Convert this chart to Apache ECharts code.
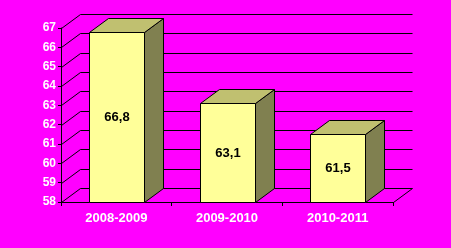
<!DOCTYPE html>
<html><head><meta charset="utf-8">
<script src="https://cdn.jsdelivr.net/npm/echarts@6/dist/echarts.min.js"></script>
<style>html,body{margin:0;padding:0;background:#FF00FF;}#c{width:451px;height:248px;}</style>
</head><body><div id="c"></div>
<script>
var categories = ['2008-2009', '2009-2010', '2010-2011'];
var values = [66.8, 63.1, 61.5];
var yTicks = [58, 59, 60, 61, 62, 63, 64, 65, 66, 67];

var DX = 19, DY = -14;
function c(v){ return Math.round(v) + 0.5; }
var chart = echarts.init(document.getElementById('c'), null, {renderer: 'canvas'});
var txtW = {color: '#fff', fontFamily: 'Liberation Sans, Arial', fontWeight: 'bold',
  textShadowColor: '#000', textShadowOffsetX: 1, textShadowOffsetY: 1, textShadowBlur: 0};
chart.setOption({
  backgroundColor: '#FF00FF',
  animation: false,
  grid: {left: 61, right: 58, top: 28, bottom: 46},
  xAxis: {
    type: 'category', data: categories,
    axisLine: {lineStyle: {color: '#000', width: 1}},
    axisTick: {show: true, length: 4, lineStyle: {color: '#000'}},
    axisLabel: Object.assign({fontSize: 13, margin: 10}, txtW)
  },
  yAxis: {
    type: 'value', min: 58, max: 67, interval: 1,
    axisLine: {show: true, lineStyle: {color: '#000', width: 1}},
    axisTick: {show: true, length: 3, lineStyle: {color: '#000'}},
    splitLine: {show: false},
    axisLabel: Object.assign({fontSize: 12, margin: 5}, txtW)
  },
  series: [
    {
      type: 'custom', z: 1, silent: true,
      data: yTicks.map(function(t){ return [0, t]; }),
      renderItem: function(params, api) {
        var cs = params.coordSys;
        var p = api.coord([0, api.value(1)]);
        var y = p[1];
        var x0 = cs.x, x1 = cs.x + cs.width;
        var st = {stroke: '#000', lineWidth: 1, fill: null};
        var children = [
          {type: 'polyline', shape: {points: [[c(x0), c(y)], [c(x0 + DX), c(y + DY)], [c(x1 + DX), c(y + DY)]]}, style: st}
        ];
        if (api.value(1) === yTicks[0]) {
          children.push({type: 'line', shape: {x1: c(x1), y1: c(y), x2: c(x1 + DX), y2: c(y + DY)}, style: st});
        }
        return {type: 'group', children: children};
      }
    },
    {
      type: 'custom', z: 5, silent: true,
      data: values.map(function(v, i){ return [i, v]; }),
      renderItem: function(params, api) {
        var i = api.value(0), v = api.value(1);
        var top = api.coord([i, v]);
        var base = api.coord([i, yTicks[0]]);
        var bw = api.size([1, 0])[0];
        var w = Math.round(bw * 0.5);
        var xl = c(top[0] - w / 2), xr = xl + w;
        var yt = c(top[1]), yb = c(base[1]);
        var st = {stroke: '#000', lineWidth: 1};
        return {type: 'group', children: [
          {type: 'polygon', shape: {points: [[xr, yt], [xr + DX, yt + DY], [xr + DX, yb + DY], [xr, yb]]},
            style: Object.assign({fill: '#808050'}, st)},
          {type: 'polygon', shape: {points: [[xl, yt], [xl + DX, yt + DY], [xr + DX, yt + DY], [xr, yt]]},
            style: Object.assign({fill: '#C0C070'}, st)},
          {type: 'rect', shape: {x: xl, y: yt, width: w, height: yb - yt},
            style: Object.assign({fill: '#FFFF99'}, st)},
          {type: 'text', style: {
            text: String(v).replace('.', ','), x: (xl + xr) / 2, y: (yt + yb) / 2,
            align: 'center', verticalAlign: 'middle', fill: '#000',
            font: 'bold 13px "Liberation Sans", Arial'}}
        ]};
      }
    }
  ]
});
</script></body></html>
